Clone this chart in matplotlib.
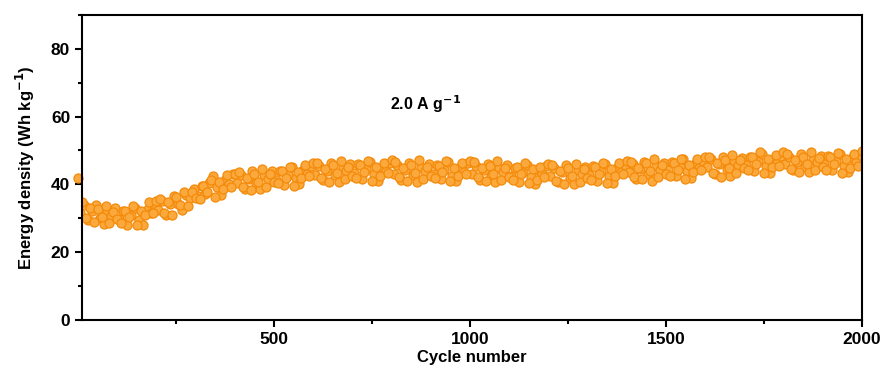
import numpy as np
import matplotlib.pyplot as plt
from matplotlib.ticker import MultipleLocator

plt.rcParams['font.family'] = ['Liberation Sans', 'DejaVu Sans']
plt.rcParams['font.weight'] = 'bold'

# energy density, cycles 10, 20, ... 2000
cycles_a = np.arange(10, 2001, 10)
energy_a = [
    34.8, 30.2, 33.0, 28.9, 32.8, 30.4, 33.6, 28.5, 31.9, 29.8,
    28.6, 32.2, 30.4, 33.6, 28.0, 32.1, 30.9, 34.8, 31.4, 35.1,
    35.8, 31.6, 34.8, 31.0, 36.4, 33.9, 37.8, 33.5, 37.6, 35.9,
    35.6, 39.5, 37.8, 41.3, 36.4, 40.6, 38.6, 42.9, 39.2, 43.0,
    43.6, 39.2, 41.8, 38.2, 43.2, 40.6, 44.5, 39.3, 43.0, 40.8,
    40.3, 43.9, 42.0, 45.2, 39.5, 43.6, 41.8, 45.8, 42.6, 46.4,
    46.3, 41.8, 44.5, 40.8, 45.7, 43.3, 47.0, 41.6, 45.2, 42.6,
    42.0, 45.6, 43.7, 46.9, 41.1, 45.2, 42.6, 46.4, 43.3, 47.2,
    46.6, 42.1, 44.8, 41.0, 45.7, 43.4, 47.1, 41.6, 45.2, 42.6,
    41.8, 45.5, 43.6, 46.8, 40.9, 44.9, 42.4, 46.2, 43.1, 47.0,
    46.6, 42.1, 44.8, 41.0, 45.4, 43.1, 46.8, 41.3, 44.9, 42.3,
    41.3, 45.0, 43.1, 46.3, 40.4, 44.4, 41.4, 45.2, 42.1, 46.0,
    45.6, 41.1, 43.8, 40.0, 44.7, 42.4, 46.1, 40.6, 44.5, 41.9,
    41.3, 45.0, 43.1, 46.3, 40.4, 44.4, 42.4, 46.2, 43.1, 47.0,
    46.6, 42.1, 44.8, 41.5, 46.2, 43.9, 47.6, 42.1, 45.7, 43.1,
    42.5, 46.2, 44.3, 47.5, 41.6, 45.6, 43.6, 47.4, 44.3, 48.2,
    48.0, 43.4, 46.2, 42.3, 47.1, 44.8, 48.7, 43.3, 47.3, 44.8,
    44.3, 48.0, 46.0, 49.4, 43.3, 47.4, 45.1, 48.8, 45.4, 49.6,
    49.1, 44.6, 47.3, 43.5, 48.2, 45.9, 49.6, 44.1, 47.7, 45.1,
    44.3, 48.0, 46.1, 49.3, 43.4, 47.4, 44.8, 49.0, 45.5, 49.8,
]
# cycles 5, 15, ... 1995
cycles_b = np.arange(5, 2000, 10)
energy_b = [
    31.6, 33.9, 29.5, 32.1, 33.9, 30.2, 28.2, 32.2, 30.8, 33.0,
    29.7, 32.1, 28.0, 30.9, 33.1, 29.6, 28.0, 32.4, 31.5, 34.3,
    32.4, 35.0, 31.0, 34.2, 36.6, 34.1, 32.5, 36.9, 36.0, 38.6,
    36.7, 39.4, 37.1, 40.3, 42.6, 39.3, 36.9, 41.2, 40.2, 43.0,
    40.3, 42.8, 38.6, 41.7, 43.9, 40.4, 38.5, 42.8, 41.7, 43.9,
    41.4, 44.0, 39.8, 42.9, 45.2, 41.9, 40.0, 44.3, 43.2, 45.4,
    42.9, 45.4, 41.2, 43.9, 46.3, 42.7, 40.8, 45.0, 43.8, 46.0,
    43.4, 46.0, 41.6, 44.5, 46.6, 43.0, 41.0, 45.2, 44.0, 46.2,
    43.2, 45.6, 41.4, 44.3, 46.4, 42.8, 40.8, 45.0, 43.8, 46.0,
    43.0, 45.8, 41.6, 44.1, 46.5, 42.6, 41.0, 45.2, 43.6, 46.2,
    43.0, 45.3, 41.2, 44.1, 46.1, 42.6, 40.6, 44.8, 43.6, 45.8,
    42.5, 44.9, 40.7, 43.6, 45.7, 42.1, 40.1, 44.3, 43.1, 45.3,
    42.4, 44.8, 40.6, 43.5, 45.6, 42.0, 40.0, 44.2, 43.0, 45.2,
    42.9, 45.3, 41.1, 44.0, 46.1, 42.5, 40.5, 44.7, 43.5, 45.7,
    43.5, 45.9, 41.7, 44.6, 46.7, 43.1, 41.1, 45.3, 44.1, 46.3,
    44.2, 46.6, 42.4, 45.3, 47.4, 43.8, 41.8, 46.0, 44.8, 47.0,
    45.0, 47.4, 43.2, 46.1, 48.2, 44.6, 42.6, 46.8, 45.6, 47.8,
    45.7, 48.1, 43.9, 46.8, 48.9, 45.3, 43.3, 47.5, 46.3, 48.5,
    45.9, 48.0, 44.1, 46.7, 49.0, 45.1, 43.5, 47.3, 46.5, 48.4,
    45.9, 48.3, 44.1, 47.0, 49.1, 45.5, 43.5, 47.7, 46.5, 48.7,
]
first_cycle = [1]
first_energy = [42.0]

fig = plt.figure(figsize=(8.82, 3.72), dpi=100)
ax = fig.add_axes([0.093, 0.140, 0.884, 0.820])

style = dict(ls='none', marker='o', ms=6.5, mfc='#FBA93C', mec='#F48A0A', mew=0.9)
ax.plot(first_cycle, first_energy, clip_on=False, **style)
ax.plot(cycles_b, energy_b, **style)
ax.plot(cycles_a, energy_a, **style)

ax.set_xlim(10, 2000)
ax.set_ylim(0, 90)
ax.set_xticks([500, 1000, 1500, 2000])
ax.xaxis.set_minor_locator(MultipleLocator(250))
ax.set_yticks([0, 20, 40, 60, 80])
ax.yaxis.set_minor_locator(MultipleLocator(10))
ax.tick_params(which='both', direction='out', top=False, right=False, width=1.5)
ax.tick_params(which='major', length=5, labelsize=12.5)
ax.tick_params(which='minor', length=3)
for s in ax.spines.values():
    s.set_linewidth(1.5)

ax.set_xlabel('Cycle number', fontsize=12, fontweight='bold', labelpad=2)
ax.set_ylabel('Energy density (Wh kg$^{\\mathbf{-1}}$)', fontsize=12, fontweight='bold', labelpad=10)
ax.text(796, 62, '2.0 A g$^{\\mathbf{-1}}$', fontsize=11.5, fontweight='bold')

fig.savefig('out.png', dpi=100)
